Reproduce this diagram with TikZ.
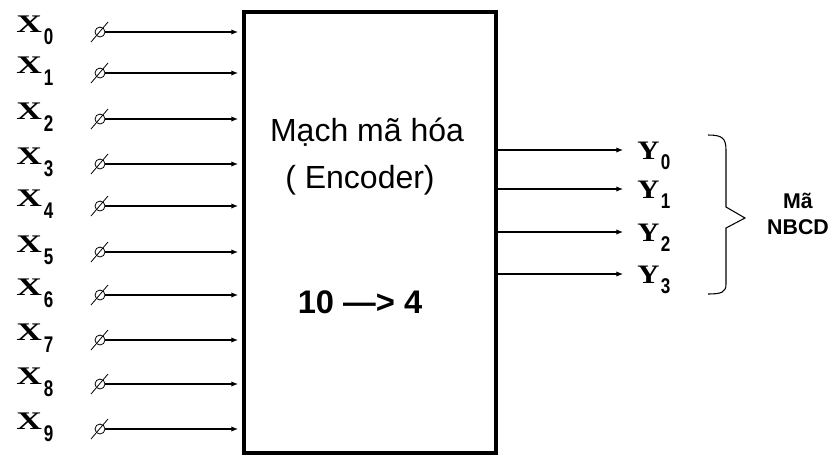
\documentclass[tikz,border=0pt]{standalone}
\usepackage{fontspec}
\usepackage{graphicx}
\setmainfont{Liberation Sans}
\newfontfamily\lserif{Liberation Serif}
\usetikzlibrary{arrows.meta}
\newcommand\inlab[1]{{\lserif\bfseries\fontsize{19}{19}\selectfont\scalebox{1.4}[1]{X}}\kern1.5pt\raisebox{-9pt}{\bfseries\fontsize{17}{17}\selectfont\scalebox{0.75}[1]{#1}}}
\newcommand\outlab[1]{{\lserif\bfseries\fontsize{20}{20}\selectfont\scalebox{1.15}[1]{Y}}\kern1pt\raisebox{-7.5pt}{\bfseries\fontsize{16}{16}\selectfont\scalebox{0.8}[1]{#1}}}
\begin{document}
\begin{tikzpicture}[x=0.75pt,y=-0.75pt,
  conn/.style={line width=0.8pt,-{Latex[length=5pt,width=4pt]}},
  openend/.style={circle,draw,line width=0.6pt,inner sep=0pt,minimum size=7.5pt},
  lab/.style={inner sep=0pt,anchor=base west},
  boxtxt/.style={inner sep=0pt,anchor=base,font=\fontsize{24}{28}\selectfont}]
\useasboundingbox (0,0) rectangle (835,455);
\node[draw,line width=3pt,inner sep=0pt,minimum width=189pt,minimum height=330.75pt,anchor=north west] (enc) at (242,10) {};
\node[boxtxt] (t1) at (367,141) {Mạch mã hóa};
\node[boxtxt] (t2) at (360,188) {( Encoder)};
\node[boxtxt,font=\bfseries\fontsize{24.5}{28}\selectfont] (t3) at (360,313) {10 —> 4};
\foreach \i/\y in {0/32,1/73,2/119,3/164,4/206,5/252,6/295,7/340,8/384,9/429}{
  \node[openend] (o\i) at (100,\y) {};
  \draw[line width=0.6pt] ([shift={(-9,10)}]o\i.center) -- ([shift={(8,-10)}]o\i.center);
  \draw[conn,shorten >=3pt] (o\i.east) -- (enc.west |- o\i);
  \node[lab] (x\i) at (16,\y) {\inlab{\i}};
}
\foreach \i/\y in {0/150,1/189,2/232,3/274}{
  \coordinate (e\i) at (623,\y);
  \draw[conn] (enc.east |- e\i) -- (e\i);
  \node[lab] (y\i) at (637,\y+9) {\outlab{\i}};
}
\draw[line width=0.8pt] (708,135) .. controls (722,135) and (726,138) .. (726,150) -- (726,207) -- (745,218) -- (726,228) -- (726,284) .. controls (726,292) and (722,294) .. (708,294);
\node[inner sep=0pt,align=center,font=\bfseries\fontsize{16}{19.5}\selectfont] (nbcd) at (798,214) {Mã\\NBCD};
\end{tikzpicture}
\end{document}
